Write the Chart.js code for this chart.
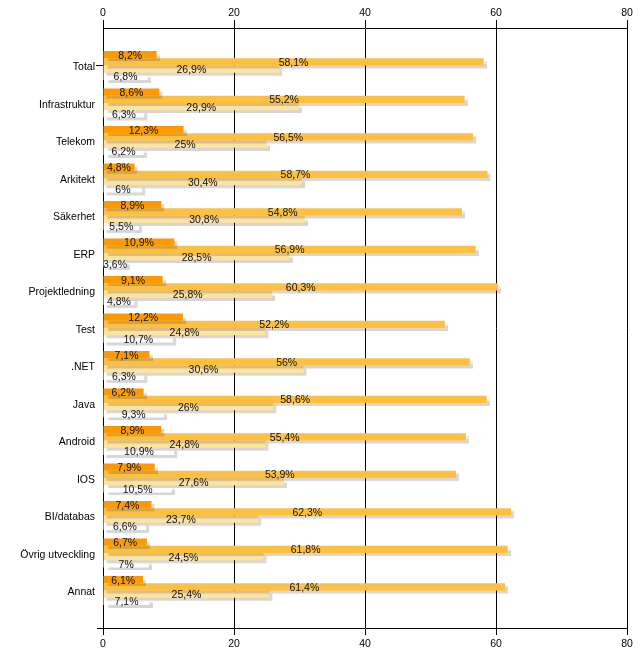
<!DOCTYPE html>
<html>
<head>
<meta charset="utf-8">
<script src="https://cdn.jsdelivr.net/npm/chart.js@4/dist/chart.umd.min.js"></script>
<style>
  html, body { margin: 0; padding: 0; background: #fff; }
  #diagram { display: block; }
</style>
</head>
<body>
<canvas id="diagram" width="643" height="669"></canvas>
<script>
// --- Data ---
const kategorier = ["Total", "Infrastruktur", "Telekom", "Arkitekt", "Säkerhet", "ERP", "Projektledning",
  "Test", ".NET", "Java", "Android", "IOS", "BI/databas", "Övrig utveckling", "Annat"];
const andel1 = [8.2, 8.6, 12.3, 4.8, 8.9, 10.9, 9.1, 12.2, 7.1, 6.2, 8.9, 7.9, 7.4, 6.7, 6.1];
const andel2 = [58.1, 55.2, 56.5, 58.7, 54.8, 56.9, 60.3, 52.2, 56, 58.6, 55.4, 53.9, 62.3, 61.8, 61.4];
const andel3 = [26.9, 29.9, 25, 30.4, 30.8, 28.5, 25.8, 24.8, 30.6, 26, 24.8, 27.6, 23.7, 24.5, 25.4];
const andel4 = [6.8, 6.3, 6.2, 6, 5.5, 3.6, 4.8, 10.7, 6.3, 9.3, 10.9, 10.5, 6.6, 7, 7.1];
const xMin = 0, xMax = 80, xSteg = 20;

const typsnitt = '"Liberation Sans", Arial, sans-serif';
Chart.defaults.font.family = typsnitt;
Chart.defaults.font.size = 10.5;
Chart.defaults.color = '#000';

// procent med decimalkomma
const fmt = v => String(v).replace('.', ',') + '%';

// Skugga under staplarna
const skugga = {
  id: 'skugga',
  beforeDatasetDraw(chart) {
    const c = chart.ctx;
    c.save();
    c.shadowColor = 'rgba(0,0,0,0.16)';
    c.shadowOffsetX = 3;
    c.shadowOffsetY = 3;
    c.shadowBlur = 1;
  },
  afterDatasetDraw(chart) {
    chart.ctx.restore();
  }
};

// Värdeetiketter mitt på staplarna
const etiketter = {
  id: 'etiketter',
  afterDatasetsDraw(chart) {
    const c = chart.ctx;
    c.save();
    c.font = '10.5px ' + typsnitt;
    c.fillStyle = '#111';
    c.textAlign = 'center';
    c.textBaseline = 'middle';
    chart.data.datasets.forEach((ds, i) => {
      chart.getDatasetMeta(i).data.forEach((bar, j) => {
        const p = bar.getProps(['x', 'y', 'base'], true);
        c.fillText(fmt(ds.data[j]), (p.x + p.base) / 2, p.y + 1);
      });
    });
    // liten markering nere till vänster
    const a = chart.chartArea;
    c.strokeStyle = '#000';
    c.lineWidth = 1;
    c.beginPath();
    c.moveTo(a.left - 6, Math.round(a.bottom) + 0.5);
    c.lineTo(a.left, Math.round(a.bottom) + 0.5);
    c.stroke();
    c.restore();
  }
};

const serie = (data, farg) => ({
  data: data,
  backgroundColor: farg,
  borderWidth: 0,
  barPercentage: 1,
  categoryPercentage: 0.77,
  xAxisID: 'x'
});

new Chart(document.getElementById('diagram'), {
  type: 'bar',
  data: {
    labels: kategorier,
    datasets: [
      serie(andel1, '#ff9900'),
      serie(andel2, '#ffc040'),
      serie(andel3, '#ffe3a2'),
      serie(andel4, '#ffffff')
    ]
  },
  options: {
    indexAxis: 'y',
    responsive: false,
    animation: false,
    layout: { padding: { right: 16 } },
    plugins: {
      legend: { display: false },
      tooltip: { enabled: false }
    },
    scales: {
      x: {
        position: 'top',
        min: xMin, max: xMax,
        ticks: { stepSize: xSteg, padding: 1 },
        grid: { color: '#000', tickLength: 8 },
        border: { color: '#000' },
        afterFit: s => { s.height = 28; }
      },
      x2: {
        type: 'linear',
        position: 'bottom',
        min: xMin, max: xMax,
        ticks: { stepSize: xSteg, padding: 3 },
        grid: { color: '#000', tickLength: 7, drawOnChartArea: false },
        border: { color: '#000' },
        afterFit: s => { s.height = 41; }
      },
      y: {
        ticks: { padding: 1, labelOffset: 2 },
        grid: {
          offset: false,
          drawOnChartArea: false,
          tickLength: 7,
          color: c => c.index === 0 ? '#000' : 'rgba(0,0,0,0)'
        },
        border: { color: '#000' },
        afterFit: s => { s.width = 103; },
        // luft ovanför första och under sista kategorin
        afterBuildTicks: s => { s._startValue = -1; s._valueRange = kategorier.length + 1; }
      }
    }
  },
  plugins: [skugga, etiketter]
});
</script>
</body>
</html>
